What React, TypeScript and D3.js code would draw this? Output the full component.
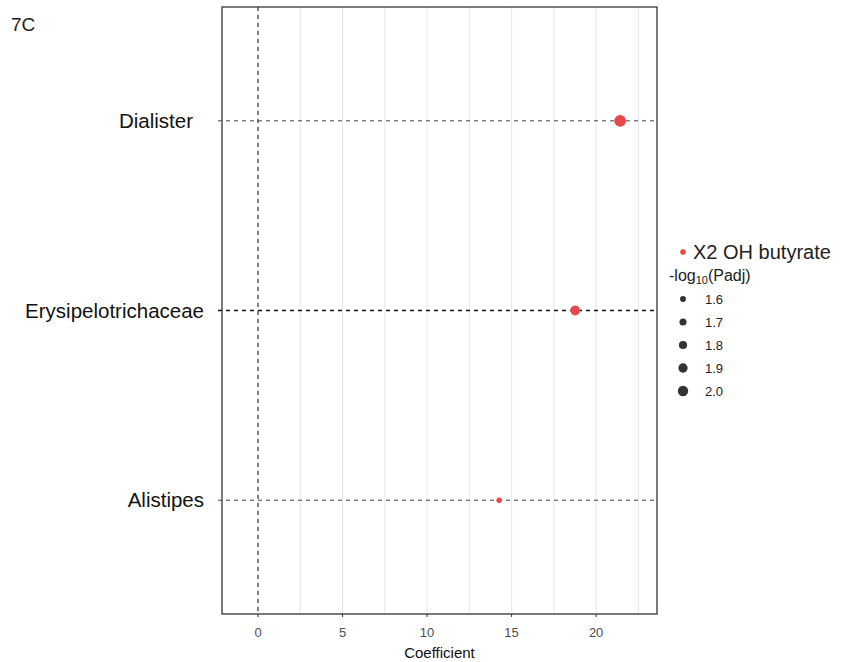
import React from "react";
import * as d3 from "d3";

const taxa = ["Dialister", "Erysipelotrichaceae", "Alistipes"];
const coefficients = [21.42, 18.76, 14.26];
const negLogPadj = [2.05, 1.88, 1.52];
const xTicks = [0, 5, 10, 15, 20];
const minorTicks = [2.5, 7.5, 12.5, 17.5, 22.5];
const sizeBreaks = [1.6, 1.7, 1.8, 1.9, 2.0];
const seriesName = "X2 OH butyrate";

const W = 843;
const H = 662;
const panel = { left: 222, right: 657, top: 7, bottom: 614 };
const red = "#E8474B";

const App = () => {
  const x = d3.scaleLinear().domain([-2.13, 23.6]).range([panel.left, panel.right]);
  const y = d3
    .scalePoint<string>()
    .domain(taxa)
    .range([panel.top, panel.bottom])
    .padding(0.6);
  const r = d3.scaleLinear().domain([1.5, 2.05]).range([2.6, 5.9]);

  return (
    <svg width={W} height={H} style={{ position: "absolute", left: 0, top: 0, fontFamily: "Arial, 'Liberation Sans', sans-serif" }}>
      <rect width={W} height={H} fill="white" />
      <text x={11} y={31} fontSize={19} fill="#222">7C</text>

      {/* grid */}
      {minorTicks.concat(xTicks).map((t) => (
        <line key={"g" + t} x1={x(t)} x2={x(t)} y1={panel.top} y2={panel.bottom} stroke="#e6e6e6" strokeWidth={1} />
      ))}

      {/* zero line */}
      <line x1={x(0)} x2={x(0)} y1={panel.top} y2={panel.bottom} stroke="#111" strokeDasharray="4,4" />

      {/* category lines */}
      {taxa.map((t, i) => (
        <line
          key={"h" + t}
          x1={panel.left - 4}
          x2={panel.right}
          y1={y(t)}
          y2={y(t)}
          stroke={i === 1 ? "#111" : "#444"}
          strokeWidth={i === 1 ? 1.3 : 1}
          strokeDasharray="4,4"
        />
      ))}

      {/* points */}
      {taxa.map((t, i) => (
        <circle key={"p" + t} cx={x(coefficients[i])} cy={y(t)} r={r(negLogPadj[i])} fill={red} />
      ))}

      <rect
        x={panel.left}
        y={panel.top}
        width={panel.right - panel.left}
        height={panel.bottom - panel.top}
        fill="none"
        stroke="#333"
        strokeWidth={1.3}
      />

      {/* y labels */}
      {taxa.map((t) => (
        <text
          key={"l" + t}
          x={t === "Dialister" ? 193 : 204}
          y={y(t)! + 7}
          textAnchor="end"
          fontSize={20.5}
          fill="#111"
        >
          {t}
        </text>
      ))}

      {/* x axis */}
      {xTicks.map((t) => (
        <g key={"x" + t}>
          <line x1={x(t)} x2={x(t)} y1={panel.bottom} y2={panel.bottom + 3} stroke="#333" />
          <text x={x(t)} y={637} textAnchor="middle" fontSize={13} fill="#4d4d4d">{t}</text>
        </g>
      ))}
      <text x={(panel.left + panel.right) / 2} y={658} textAnchor="middle" fontSize={15} fill="#111">Coefficient</text>

      {/* legend */}
      <circle cx={683} cy={252} r={2.8} fill={red} />
      <text x={693} y={259} fontSize={20} fill="#222">{seriesName}</text>
      <text x={669} y={281} fontSize={16} fill="#222">
        -log<tspan fontSize={11} dy={3}>10</tspan><tspan dy={-3}>(Padj)</tspan>
      </text>
      {sizeBreaks.map((b, i) => (
        <g key={"s" + b}>
          <circle cx={683} cy={299 + i * 23} r={r(b) * 0.93} fill="#333" />
          <text x={705} y={303.5 + i * 23} fontSize={13} fill="#222">{b.toFixed(1)}</text>
        </g>
      ))}
    </svg>
  );
};

export default App;
